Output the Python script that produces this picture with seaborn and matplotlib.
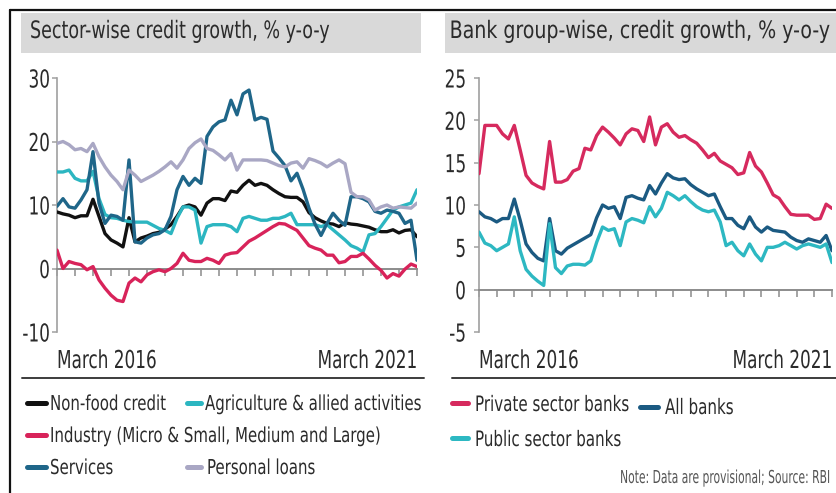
import matplotlib
matplotlib.use("Agg")
import numpy as np
import pandas as pd
import matplotlib.pyplot as plt
import matplotlib.font_manager as fm
from matplotlib import patheffects
from matplotlib.text import Text
from matplotlib.textpath import TextPath
from matplotlib.transforms import Affine2D, Bbox, blended_transform_factory
import seaborn as sns
from matplotlib.lines import Line2D
from matplotlib.patches import Rectangle

# ---------------- data (monthly, March 2016 .. March 2021) ----------------
month_idx = list(range(61))
period_labels = ["March 2016", "March 2021"]

sector_names = ["Non-food credit", "Agriculture & allied activities",
                "Industry (Micro & Small, Medium and Large)", "Services",
                "Personal loans"]
sector_colors = ["#111111", "#2cb6c1", "#d8235a", "#1f6689", "#a9a7c4"]

non_food = [8.9, 8.6, 8.4, 8.0, 8.3, 8.3, 10.9, 8.2, 5.5, 4.5,
            4.0, 3.4, 8.0, 4.2, 4.8, 5.1, 5.5, 5.7, 6.2, 6.9,
            8.2, 9.7, 10.0, 9.7, 8.4, 10.3, 11.0, 11.0, 10.7, 12.2,
            12.0, 13.1, 13.9, 13.1, 13.4, 13.1, 12.4, 11.8, 11.3, 11.2,
            11.2, 10.5, 8.8, 8.0, 7.5, 7.1, 7.0, 6.6, 7.2, 7.0,
            6.9, 6.7, 6.5, 6.1, 5.8, 5.8, 6.1, 5.6, 6.0, 6.1,
            5.0]
agriculture = [15.2, 15.2, 15.5, 14.2, 13.8, 13.8, 15.3, 11.0, 8.5, 8.0,
               7.9, 7.6, 7.4, 7.3, 7.3, 7.3, 6.8, 6.3, 6.0, 5.5,
               7.9, 9.7, 9.7, 9.2, 4.0, 6.6, 6.9, 6.9, 6.9, 6.6,
               5.8, 7.9, 8.2, 7.9, 7.6, 7.6, 7.9, 7.9, 8.2, 8.7,
               6.9, 6.9, 6.9, 6.9, 6.6, 6.9, 6.1, 5.3, 4.5, 3.6,
               3.2, 2.6, 5.3, 5.5, 6.6, 7.9, 9.2, 9.7, 10.0, 10.3,
               12.4]
industry = [2.9, 0.0, 1.1, 0.8, 0.6, -0.2, 0.3, -1.8, -3.1, -4.2,
            -5.0, -5.2, -2.3, -1.5, -2.1, -1.0, -0.5, -0.2, -0.5, 0.0,
            0.8, 2.4, 1.3, 1.1, 1.1, 1.6, 1.3, 0.8, 2.1, 2.4,
            2.5, 3.4, 4.3, 4.8, 5.4, 6.0, 6.6, 7.1, 7.0, 6.5,
            6.0, 4.8, 3.6, 3.2, 2.9, 2.1, 2.1, 0.9, 1.1, 1.9,
            1.9, 2.4, 1.5, 0.5, -0.3, -1.5, -0.8, -1.2, -0.1, 0.7,
            0.3]
services = [9.8, 11.0, 9.7, 9.5, 10.8, 12.4, 18.4, 10.3, 7.1, 8.4,
            8.2, 7.6, 17.1, 4.2, 4.0, 4.8, 5.3, 5.5, 6.1, 8.2,
            12.4, 14.5, 13.1, 14.2, 13.4, 20.8, 22.3, 23.1, 23.4, 26.5,
            24.2, 27.5, 28.1, 23.4, 23.8, 23.5, 18.5, 17.4, 16.2, 13.8,
            15.0, 12.5, 9.5, 7.0, 5.2, 7.1, 8.7, 7.6, 6.8, 11.3,
            11.3, 11.0, 10.5, 9.0, 8.7, 9.2, 9.0, 8.7, 7.1, 7.6,
            1.3]
personal_loans = [19.7, 20.0, 19.5, 18.7, 18.9, 18.4, 19.7, 17.6, 16.0, 14.7,
                  13.7, 12.4, 15.5, 14.7, 13.7, 14.2, 14.7, 15.3, 16.0, 16.8,
                  15.8, 17.1, 18.9, 19.8, 20.4, 18.9, 18.6, 17.9, 17.1, 18.1,
                  15.5, 17.1, 17.1, 17.1, 17.1, 17.0, 16.6, 16.2, 16.0, 16.6,
                  16.8, 15.8, 17.3, 17.0, 16.6, 16.0, 16.6, 17.1, 16.5, 12.0,
                  11.3, 11.3, 10.8, 9.2, 9.7, 10.0, 9.5, 9.7, 9.6, 9.5,
                  10.3]

bank_names = ["Private sector banks", "All banks", "Public sector banks"]
bank_colors = ["#d62a5e", "#1b5a82", "#2db8c2"]

private_banks = [13.7, 19.4, 19.4, 19.4, 18.4, 17.8, 19.4, 16.5, 13.5, 12.6,
                 12.2, 11.9, 17.5, 12.7, 12.7, 13.0, 14.0, 14.3, 16.7, 16.5,
                 18.2, 19.2, 18.6, 17.9, 17.1, 18.4, 19.0, 18.8, 17.5, 20.4,
                 17.1, 19.2, 19.6, 18.6, 18.0, 18.2, 17.7, 17.3, 16.5, 15.6,
                 16.1, 15.2, 14.8, 14.4, 13.6, 13.8, 16.2, 14.6, 13.9, 12.6,
                 11.2, 10.8, 9.8, 8.9, 8.8, 8.8, 8.8, 8.3, 8.4, 10.1,
                 9.6]
all_banks = [9.2, 8.6, 8.4, 8.0, 8.4, 8.4, 10.7, 8.2, 5.4, 4.4,
             3.7, 3.4, 8.4, 4.6, 4.2, 4.9, 5.3, 5.7, 6.1, 6.5,
             8.5, 10.0, 9.6, 9.8, 8.4, 10.9, 11.1, 10.8, 10.6, 12.3,
             11.3, 12.6, 13.7, 13.2, 13.0, 13.1, 12.4, 11.9, 11.5, 11.1,
             11.3, 9.8, 8.4, 8.4, 7.6, 7.2, 8.6, 7.4, 6.8, 7.4,
             7.0, 6.9, 6.8, 6.2, 5.8, 5.6, 6.0, 5.8, 5.6, 6.4,
             4.6]
public_banks = [6.8, 5.5, 5.2, 4.6, 5.0, 5.4, 8.6, 4.6, 2.4, 1.6,
                1.0, 0.5, 7.8, 2.6, 1.9, 2.8, 3.0, 3.0, 2.9, 3.4,
                5.6, 7.4, 7.0, 7.2, 5.2, 8.0, 8.4, 8.2, 7.9, 9.8,
                8.6, 9.6, 11.5, 11.1, 10.6, 11.1, 10.4, 9.8, 9.4, 9.2,
                9.4, 8.0, 5.2, 5.6, 4.6, 4.0, 5.4, 4.2, 3.4, 5.0,
                5.0, 5.2, 5.6, 5.2, 4.8, 5.2, 5.4, 5.2, 5.0, 5.4,
                3.2]

sector_yticks = [-10, 0, 10, 20, 30]
bank_yticks = [-5, 0, 5, 10, 15, 20, 25]

titles = ["Sector-wise credit growth, % y-o-y",
          "Bank group-wise, credit growth, % y-o-y"]
note = "Note: Data are provisional; Source: RBI"

# ---------------- tidy frames ----------------
sector_df = pd.DataFrame({
    "month": np.tile(month_idx, len(sector_names)),
    "series": np.repeat(sector_names, len(month_idx)),
    "growth": np.concatenate([non_food, agriculture, industry, services, personal_loans]),
})
bank_df = pd.DataFrame({
    "month": np.tile(month_idx, len(bank_names)),
    "series": np.repeat(bank_names, len(month_idx)),
    "growth": np.concatenate([private_banks, all_banks, public_banks]),
})

# ---------------- font: a condensed sans if one is installed ----------------
sns.set_theme(style="white")


def find_condensed():
    prefs = ["Liberation Sans Narrow", "Noto Sans", "DejaVu Sans", "Roboto",
             "Open Sans", "Lato", "Inter"]
    best, best_key = None, None
    for f in fm.fontManager.ttflist:
        nm, st = f.name, str(f.stretch).lower()
        low = nm.lower() + " " + f.fname.lower()
        if any(k in low for k in ("mono", "cjk", "serif", "italic", "oblique")):
            continue
        narrow = ("narrow" in low) or ("condensed" in low) or ("condensed" in st)
        if not narrow or f.style != "normal":
            continue
        if f.weight not in (400, "normal", "regular", "book"):
            continue
        rank_w = 1 if any(k in f.fname.lower() for k in
                          ("bold", "light", "medium", "thin", "black", "semi", "extra", "ultra")) else 0
        fam = next((i for i, p in enumerate(prefs) if nm.startswith(p)), len(prefs))
        key = (rank_w, fam)
        if best_key is None or key < best_key:
            best, best_key = f, key
    return best


cond = find_condensed()
FONT_FILE = cond.fname if cond is not None else fm.findfont(fm.FontProperties(family="Roboto"))


def fp(size=12):
    return fm.FontProperties(fname=FONT_FILE, size=size)


class NarrowText(Text):
    """Text whose glyphs are scaled horizontally about its anchor edge."""

    def __init__(self, *args, sx=1.0, **kwargs):
        super().__init__(*args, **kwargs)
        self.sx = sx

    def raw_extent(self, renderer=None):
        return super().get_window_extent(renderer)

    def anchor_x(self, bb):
        return bb.x1 if self.get_horizontalalignment() == "right" else bb.x0

    def get_window_extent(self, renderer=None, dpi=None):
        bb = super().get_window_extent(renderer, dpi)
        x0 = self.anchor_x(bb)
        return Bbox([[x0 + (bb.x0 - x0) * self.sx, bb.y0],
                     [x0 + (bb.x1 - x0) * self.sx, bb.y1]])


class XSqueeze(patheffects.AbstractPathEffect):
    def __init__(self, text):
        super().__init__()
        self.text = text

    def draw_path(self, renderer, gc, tpath, affine, rgbFace=None):
        t = self.text
        x0 = t.anchor_x(t.raw_extent(renderer))
        aff = affine + Affine2D().translate(-x0, 0).scale(t.sx, 1).translate(x0, 0)
        renderer.draw_path(gc, tpath, aff, rgbFace)


TEXT = "#2b2b2b"
W, H = 836, 493
fig = plt.figure(figsize=(W / 100, H / 100), dpi=100)


def fx(px):
    return px / W


def fy(py):
    return 1 - py / H


def add_text(x, y, s, transform, ha="left", va="baseline", color=TEXT):
    t = NarrowText(x, y, s, transform=transform, ha=ha, va=va, color=color,
                   fontproperties=fp())
    fig.add_artist(t)
    return t


axL = fig.add_axes([fx(57), fy(332), (417 - 57) / W, (332 - 78) / H])
axR = fig.add_axes([fx(479), fy(332), (832 - 479) / W, (332 - 78) / H])

sns.lineplot(data=sector_df, x="month", y="growth", hue="series",
             hue_order=sector_names, palette=sector_colors, linewidth=2.4,
             estimator=None, legend=False, ax=axL)
sns.lineplot(data=bank_df, x="month", y="growth", hue="series",
             hue_order=bank_names, palette=bank_colors, linewidth=2.4,
             estimator=None, legend=False, ax=axR)

ytick_texts = []
for ax, yt, label_right in [(axL, sector_yticks, 50), (axR, bank_yticks, 466)]:
    for ln in ax.lines:
        ln.set_zorder(3)
        ln.set_solid_joinstyle("round")
    ax.set_xlim(0, 60)
    ax.set_ylim(yt[0], yt[-1])
    ax.set_yticks(yt)
    ax.set_xticks(range(0, 61, 3))
    ax.set_xlabel("")
    ax.set_ylabel("")
    ax.grid(False)
    ax.spines["top"].set_visible(False)
    ax.spines["right"].set_visible(False)
    ax.spines["bottom"].set_position(("data", 0))
    ax.spines["bottom"].set_color("#8c8c8c")
    ax.spines["bottom"].set_linewidth(1.4)
    ax.spines["left"].set_color("#a0a0a0")
    ax.spines["left"].set_linewidth(1.2)
    ax.tick_params(axis="x", bottom=True, direction="out", length=5, width=1.1,
                   color="#8c8c8c", labelbottom=False)
    ax.tick_params(axis="y", left=True, direction="out", length=3.5, width=1.1,
                   color="#a0a0a0", labelleft=False)
    ax.patch.set_alpha(0)
    tr = blended_transform_factory(fig.transFigure, ax.transData)
    for v in yt:
        ytick_texts.append(add_text(fx(label_right), v, str(v), tr, ha="right",
                                    va="center_baseline"))

# period labels under each panel
period_texts = []
for ax in (axL, axR):
    tr = blended_transform_factory(ax.transAxes, fig.transFigure)
    period_texts.append(add_text(0, fy(368), period_labels[0], tr, ha="left"))
    period_texts.append(add_text(1, fy(368), period_labels[1], tr, ha="right"))

# outer frame
fig.add_artist(Line2D([fx(10), 1], [fy(10), fy(10)], transform=fig.transFigure,
                      color="#111111", lw=1.6))
fig.add_artist(Line2D([fx(10), fx(10)], [fy(10), 0], transform=fig.transFigure,
                      color="#111111", lw=1.6))

# title bars
for x0, x1 in [(21, 421), (445, 840)]:
    fig.add_artist(Rectangle((fx(x0), fy(53)), (x1 - x0) / W, 40 / H,
                             transform=fig.transFigure, facecolor="#d9d9d9",
                             edgecolor="none", zorder=0))
title_left = add_text(fx(30), fy(38), titles[0], fig.transFigure)
title_right = add_text(fx(831), fy(38), titles[1], fig.transFigure, ha="right")

# separators above legends
for x0, x1 in [(22, 424), (452, 836)]:
    fig.add_artist(Line2D([fx(x0), fx(x1)], [fy(378), fy(378)], transform=fig.transFigure,
                          color="#3c3c3c", lw=1.4))


def legend_entry(x0, x1, yc, color, label, tx, base):
    fig.add_artist(Line2D([fx(x0), fx(x1)], [fy(yc), fy(yc)], transform=fig.transFigure,
                          color=color, lw=3.6, solid_capstyle="round"))
    return add_text(fx(tx), fy(base), label, fig.transFigure)


left_leg = [
    legend_entry(27, 46, 403, sector_colors[0], sector_names[0], 50, 410),
    legend_entry(187, 201, 403, sector_colors[1], sector_names[1], 205, 410),
    legend_entry(27, 46, 435, sector_colors[2], sector_names[2], 50, 442),
    legend_entry(27, 46, 467, sector_colors[3], sector_names[3], 50, 474),
    legend_entry(187, 201, 467, sector_colors[4], sector_names[4], 207, 474),
]
right_leg = [
    legend_entry(452, 468, 403, bank_colors[0], bank_names[0], 475, 411),
    legend_entry(640, 658, 407, bank_colors[1], bank_names[1], 665, 414),
    legend_entry(452, 468, 438, bank_colors[2], bank_names[2], 475, 446),
]
note_text = add_text(fx(831), fy(483), note, fig.transFigure, ha="right", color="#555555")


# size each text group from its ink cap height and ink width (pixels at 100 dpi)
def ink_extent(s, size):
    ext = TextPath((0, 0), s, prop=fp(size)).get_extents()
    return ext.width * 100 / 72, ext.height * 100 / 72


def fit(group, ref, width_px, cap_px):
    cap100 = ink_extent("H", 100)[1]
    size = 100 * cap_px / cap100
    sx = width_px / ink_extent(ref, size)[0]
    for t in group:
        t.set_fontsize(size)
        t.sx = sx
        t.set_path_effects([XSqueeze(t)])


fit([title_left], titles[0], 298, 17.5)
fit([title_right], titles[1], 378, 17.5)
fit(period_texts + ytick_texts, period_labels[0], 97, 18.0)
fit(left_leg, sector_names[2], 328, 15.0)
fit(right_leg, bank_names[0], 152, 15.5)
fit([note_text], note, 208, 13.0)

fig.savefig("out.png", dpi=100)
